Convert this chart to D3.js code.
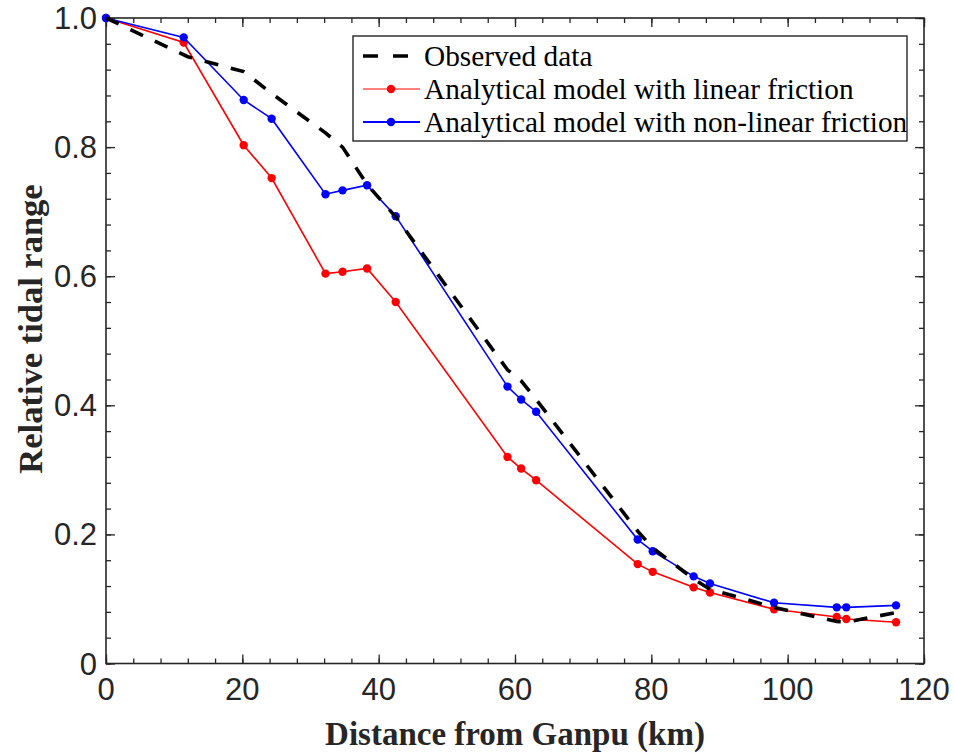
<!DOCTYPE html>
<html>
<head>
<meta charset="utf-8">
<script src="https://cdn.jsdelivr.net/npm/d3@7"></script>
<style>
  html, body { margin: 0; padding: 0; background: #fff; }
  svg { display: block; }
</style>
</head>
<body>
<svg id="chart" width="955" height="754"></svg>
<script>
// ---------------- data ----------------
const distanceKm = [0, 11.4, 20.2, 24.3, 32.2, 34.7, 38.3, 42.5, 58.9, 60.9, 63.1, 78.0, 80.2, 86.2, 88.6, 98.0, 107.2, 108.6, 115.9];
const linearFriction = [1.0, 0.962, 0.803, 0.752, 0.604, 0.607, 0.612, 0.560, 0.320, 0.302, 0.284, 0.154, 0.142, 0.118, 0.110, 0.084, 0.072, 0.069, 0.064];
const nonlinearFriction = [1.0, 0.970, 0.873, 0.844, 0.727, 0.733, 0.741, 0.693, 0.429, 0.409, 0.390, 0.192, 0.174, 0.135, 0.124, 0.094, 0.087, 0.087, 0.090];
const observedDistanceKm = [0, 12.0, 20.2, 24.3, 32.2, 34.7, 38.3, 42.5, 58.9, 60.9, 63.1, 78.0, 80.2, 86.2, 88.6, 98.0, 107.2, 108.6, 115.9];
const observedRange = [1.0, 0.940, 0.917, 0.883, 0.822, 0.800, 0.742, 0.692, 0.455, 0.438, 0.409, 0.205, 0.179, 0.131, 0.115, 0.087, 0.065, 0.064, 0.079];

const xTickValues = [0, 20, 40, 60, 80, 100, 120];
const xTickLabels = ["0", "20", "40", "60", "80", "100", "120"];
const yTickValues = [0, 0.2, 0.4, 0.6, 0.8, 1.0];
const yTickLabels = ["0", "0.2", "0.4", "0.6", "0.8", "1.0"];
const xMinorTicks = d3.range(0, 121, 4);
const yMinorTicks = d3.range(0, 26).map(i => i * 0.04);

const seriesNames = ["Observed data", "Analytical model with linear friction", "Analytical model with non-linear friction"];
const seriesColors = ["#000000", "#ff0000", "#0000ff"];

// ---------------- layout ----------------
const svg = d3.select("#chart");
const pLeft = 106, pRight = 924, pTop = 18, pBottom = 663.5;
const x = d3.scaleLinear().domain([0, 120]).range([pLeft, pRight]);
const y = d3.scaleLinear().domain([0, 1]).range([pBottom, pTop]);
const axisColor = "#262626";

const majorLen = 9, minorLen = 5;

function axisGroup(axisFn, scale, vals, len, tx, ty) {
  const g = svg.append("g").attr("transform", `translate(${tx},${ty})`)
    .call(axisFn(scale).tickValues(vals).tickSizeInner(-len).tickSizeOuter(0).tickFormat(""));
  g.select(".domain").remove();
  g.selectAll(".tick line").attr("stroke", axisColor).attr("stroke-width", 1.3);
  return g;
}
axisGroup(d3.axisBottom, x, xMinorTicks, minorLen, 0, pBottom);
axisGroup(d3.axisTop, x, xMinorTicks, minorLen, 0, pTop);
axisGroup(d3.axisLeft, y, yMinorTicks, minorLen, pLeft, 0);
axisGroup(d3.axisRight, y, yMinorTicks, minorLen, pRight, 0);
axisGroup(d3.axisBottom, x, xTickValues, majorLen, 0, pBottom);
axisGroup(d3.axisTop, x, xTickValues, majorLen, 0, pTop);
axisGroup(d3.axisLeft, y, yTickValues, majorLen, pLeft, 0);
axisGroup(d3.axisRight, y, yTickValues, majorLen, pRight, 0);

svg.append("rect")
  .attr("x", pLeft).attr("y", pTop)
  .attr("width", pRight - pLeft).attr("height", pBottom - pTop)
  .attr("fill", "none").attr("stroke", axisColor).attr("stroke-width", 1.6);

const tickFont = "'Liberation Sans', Arial, sans-serif";
svg.append("g").selectAll("text").data(xTickValues).join("text")
  .attr("x", d => x(d)).attr("y", 700)
  .attr("text-anchor", "middle")
  .attr("font-family", tickFont).attr("font-size", 31).attr("fill", axisColor)
  .text((d, i) => xTickLabels[i]);
svg.append("g").selectAll("text").data(yTickValues).join("text")
  .attr("x", 97).attr("y", d => y(d) + 11)
  .attr("text-anchor", "end")
  .attr("font-family", tickFont).attr("font-size", 31).attr("fill", axisColor)
  .text((d, i) => yTickLabels[i]);

const titleFont = "'Liberation Serif', 'Times New Roman', serif";
svg.append("text")
  .attr("x", (pLeft + pRight) / 2).attr("y", 745)
  .attr("text-anchor", "middle")
  .attr("font-family", titleFont).attr("font-weight", "bold").attr("font-size", 33)
  .attr("fill", axisColor)
  .text("Distance from Ganpu (km)");
svg.append("text")
  .attr("transform", `translate(42,329) rotate(-90)`)
  .attr("text-anchor", "middle")
  .attr("font-family", titleFont).attr("font-weight", "bold").attr("font-size", 34.5)
  .attr("fill", axisColor)
  .text("Relative tidal range");

// ---------------- series ----------------
const plotG = svg.append("g");
const line = d3.line().x(d => x(d[0])).y(d => y(d[1]));

const linData = distanceKm.map((d, i) => [d, linearFriction[i]]);
const nonData = distanceKm.map((d, i) => [d, nonlinearFriction[i]]);
const obsData = observedDistanceKm.map((d, i) => [d, observedRange[i]]);

plotG.append("path").datum(linData).attr("d", line)
  .attr("fill", "none").attr("stroke", seriesColors[1]).attr("stroke-width", 1.6);
plotG.append("g").selectAll("circle").data(linData).join("circle")
  .attr("cx", d => x(d[0])).attr("cy", d => y(d[1])).attr("r", 4.2)
  .attr("fill", seriesColors[1]);

plotG.append("path").datum(nonData).attr("d", line)
  .attr("fill", "none").attr("stroke", seriesColors[2]).attr("stroke-width", 1.6);
plotG.append("g").selectAll("circle").data(nonData).join("circle")
  .attr("cx", d => x(d[0])).attr("cy", d => y(d[1])).attr("r", 4.2)
  .attr("fill", seriesColors[2]);

plotG.append("path").datum(obsData).attr("d", line)
  .attr("fill", "none").attr("stroke", seriesColors[0]).attr("stroke-width", 3.6)
  .attr("stroke-dasharray", "14,13");

// ---------------- legend ----------------
const lg = svg.append("g");
lg.append("rect").attr("x", 353).attr("y", 36).attr("width", 554).attr("height", 105)
  .attr("fill", "#fff").attr("stroke", axisColor).attr("stroke-width", 1.4);
const rowY = [56, 89, 122];
const lx0 = 363, lx1 = 420, textX = 424;
lg.append("line").attr("x1", lx0).attr("x2", lx1).attr("y1", rowY[0]).attr("y2", rowY[0])
  .attr("stroke", seriesColors[0]).attr("stroke-width", 3.6).attr("stroke-dasharray", "15,15");
[1, 2].forEach(k => {
  lg.append("line").attr("x1", lx0).attr("x2", lx1).attr("y1", rowY[k]).attr("y2", rowY[k])
    .attr("stroke", seriesColors[k]).attr("stroke-width", k === 1 ? 1.2 : 1.8);
  lg.append("circle").attr("cx", 391).attr("cy", rowY[k]).attr("r", 4.2).attr("fill", seriesColors[k]);
});
lg.selectAll("text.lab").data(seriesNames).join("text")
  .attr("class", "lab")
  .attr("x", textX).attr("y", (d, i) => rowY[i] + 10)
  .attr("font-family", titleFont).attr("font-size", 29.3).attr("fill", "#000")
  .text(d => d);
</script>
</body>
</html>
